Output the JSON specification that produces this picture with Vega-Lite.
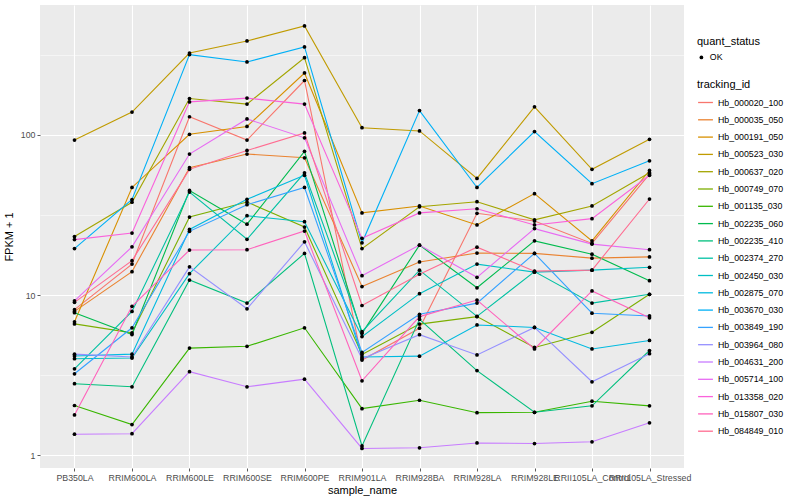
{
  "$schema": "https://vega.github.io/schema/vega-lite/v6.json",
  "width": 644,
  "height": 463,
  "autosize": {"type": "none"},
  "padding": {"left": 40, "top": 5, "right": 116, "bottom": 32},
  "background": "white",
  "data": {"values": [
    {"tracking_id":"Hb_000020_100","sample_name":"PB350LA","fpkm_plus_1":8.1,"quant_status":"OK"},
    {"tracking_id":"Hb_000020_100","sample_name":"RRIM600LA","fpkm_plus_1":15.6,"quant_status":"OK"},
    {"tracking_id":"Hb_000020_100","sample_name":"RRIM600LE","fpkm_plus_1":130,"quant_status":"OK"},
    {"tracking_id":"Hb_000020_100","sample_name":"RRIM600SE","fpkm_plus_1":93,"quant_status":"OK"},
    {"tracking_id":"Hb_000020_100","sample_name":"RRIM600PE","fpkm_plus_1":219,"quant_status":"OK"},
    {"tracking_id":"Hb_000020_100","sample_name":"RRIM901LA","fpkm_plus_1":3.92,"quant_status":"OK"},
    {"tracking_id":"Hb_000020_100","sample_name":"RRIM928BA","fpkm_plus_1":6.2,"quant_status":"OK"},
    {"tracking_id":"Hb_000020_100","sample_name":"RRIM928LA","fpkm_plus_1":32.4,"quant_status":"OK"},
    {"tracking_id":"Hb_000020_100","sample_name":"RRIM928LE","fpkm_plus_1":29,"quant_status":"OK"},
    {"tracking_id":"Hb_000020_100","sample_name":"RRII105LA_Control","fpkm_plus_1":21,"quant_status":"OK"},
    {"tracking_id":"Hb_000020_100","sample_name":"RRII105LA_Stressed","fpkm_plus_1":57,"quant_status":"OK"},

    {"tracking_id":"Hb_000035_050","sample_name":"PB350LA","fpkm_plus_1":7.9,"quant_status":"OK"},
    {"tracking_id":"Hb_000035_050","sample_name":"RRIM600LA","fpkm_plus_1":14.0,"quant_status":"OK"},
    {"tracking_id":"Hb_000035_050","sample_name":"RRIM600LE","fpkm_plus_1":62.5,"quant_status":"OK"},
    {"tracking_id":"Hb_000035_050","sample_name":"RRIM600SE","fpkm_plus_1":76,"quant_status":"OK"},
    {"tracking_id":"Hb_000035_050","sample_name":"RRIM600PE","fpkm_plus_1":72,"quant_status":"OK"},
    {"tracking_id":"Hb_000035_050","sample_name":"RRIM901LA","fpkm_plus_1":11.3,"quant_status":"OK"},
    {"tracking_id":"Hb_000035_050","sample_name":"RRIM928BA","fpkm_plus_1":16.1,"quant_status":"OK"},
    {"tracking_id":"Hb_000035_050","sample_name":"RRIM928LA","fpkm_plus_1":18.3,"quant_status":"OK"},
    {"tracking_id":"Hb_000035_050","sample_name":"RRIM928LE","fpkm_plus_1":18.2,"quant_status":"OK"},
    {"tracking_id":"Hb_000035_050","sample_name":"RRII105LA_Control","fpkm_plus_1":17,"quant_status":"OK"},
    {"tracking_id":"Hb_000035_050","sample_name":"RRII105LA_Stressed","fpkm_plus_1":17.3,"quant_status":"OK"},

    {"tracking_id":"Hb_000191_050","sample_name":"PB350LA","fpkm_plus_1":6.8,"quant_status":"OK"},
    {"tracking_id":"Hb_000191_050","sample_name":"RRIM600LA","fpkm_plus_1":47,"quant_status":"OK"},
    {"tracking_id":"Hb_000191_050","sample_name":"RRIM600LE","fpkm_plus_1":101,"quant_status":"OK"},
    {"tracking_id":"Hb_000191_050","sample_name":"RRIM600SE","fpkm_plus_1":113,"quant_status":"OK"},
    {"tracking_id":"Hb_000191_050","sample_name":"RRIM600PE","fpkm_plus_1":244,"quant_status":"OK"},
    {"tracking_id":"Hb_000191_050","sample_name":"RRIM901LA","fpkm_plus_1":32.6,"quant_status":"OK"},
    {"tracking_id":"Hb_000191_050","sample_name":"RRIM928BA","fpkm_plus_1":36,"quant_status":"OK"},
    {"tracking_id":"Hb_000191_050","sample_name":"RRIM928LA","fpkm_plus_1":27.4,"quant_status":"OK"},
    {"tracking_id":"Hb_000191_050","sample_name":"RRIM928LE","fpkm_plus_1":43,"quant_status":"OK"},
    {"tracking_id":"Hb_000191_050","sample_name":"RRII105LA_Control","fpkm_plus_1":21.8,"quant_status":"OK"},
    {"tracking_id":"Hb_000191_050","sample_name":"RRII105LA_Stressed","fpkm_plus_1":60,"quant_status":"OK"},

    {"tracking_id":"Hb_000523_030","sample_name":"PB350LA","fpkm_plus_1":93,"quant_status":"OK"},
    {"tracking_id":"Hb_000523_030","sample_name":"RRIM600LA","fpkm_plus_1":139,"quant_status":"OK"},
    {"tracking_id":"Hb_000523_030","sample_name":"RRIM600LE","fpkm_plus_1":325,"quant_status":"OK"},
    {"tracking_id":"Hb_000523_030","sample_name":"RRIM600SE","fpkm_plus_1":387,"quant_status":"OK"},
    {"tracking_id":"Hb_000523_030","sample_name":"RRIM600PE","fpkm_plus_1":480,"quant_status":"OK"},
    {"tracking_id":"Hb_000523_030","sample_name":"RRIM901LA","fpkm_plus_1":111,"quant_status":"OK"},
    {"tracking_id":"Hb_000523_030","sample_name":"RRIM928BA","fpkm_plus_1":106,"quant_status":"OK"},
    {"tracking_id":"Hb_000523_030","sample_name":"RRIM928LA","fpkm_plus_1":53.5,"quant_status":"OK"},
    {"tracking_id":"Hb_000523_030","sample_name":"RRIM928LE","fpkm_plus_1":150,"quant_status":"OK"},
    {"tracking_id":"Hb_000523_030","sample_name":"RRII105LA_Control","fpkm_plus_1":61,"quant_status":"OK"},
    {"tracking_id":"Hb_000523_030","sample_name":"RRII105LA_Stressed","fpkm_plus_1":94,"quant_status":"OK"},

    {"tracking_id":"Hb_000637_020","sample_name":"PB350LA","fpkm_plus_1":23.2,"quant_status":"OK"},
    {"tracking_id":"Hb_000637_020","sample_name":"RRIM600LA","fpkm_plus_1":38,"quant_status":"OK"},
    {"tracking_id":"Hb_000637_020","sample_name":"RRIM600LE","fpkm_plus_1":169,"quant_status":"OK"},
    {"tracking_id":"Hb_000637_020","sample_name":"RRIM600SE","fpkm_plus_1":156,"quant_status":"OK"},
    {"tracking_id":"Hb_000637_020","sample_name":"RRIM600PE","fpkm_plus_1":304,"quant_status":"OK"},
    {"tracking_id":"Hb_000637_020","sample_name":"RRIM901LA","fpkm_plus_1":19.5,"quant_status":"OK"},
    {"tracking_id":"Hb_000637_020","sample_name":"RRIM928BA","fpkm_plus_1":35.6,"quant_status":"OK"},
    {"tracking_id":"Hb_000637_020","sample_name":"RRIM928LA","fpkm_plus_1":38.3,"quant_status":"OK"},
    {"tracking_id":"Hb_000637_020","sample_name":"RRIM928LE","fpkm_plus_1":29.5,"quant_status":"OK"},
    {"tracking_id":"Hb_000637_020","sample_name":"RRII105LA_Control","fpkm_plus_1":36,"quant_status":"OK"},
    {"tracking_id":"Hb_000637_020","sample_name":"RRII105LA_Stressed","fpkm_plus_1":58,"quant_status":"OK"},

    {"tracking_id":"Hb_000749_070","sample_name":"PB350LA","fpkm_plus_1":6.6,"quant_status":"OK"},
    {"tracking_id":"Hb_000749_070","sample_name":"RRIM600LA","fpkm_plus_1":5.8,"quant_status":"OK"},
    {"tracking_id":"Hb_000749_070","sample_name":"RRIM600LE","fpkm_plus_1":30.7,"quant_status":"OK"},
    {"tracking_id":"Hb_000749_070","sample_name":"RRIM600SE","fpkm_plus_1":38.1,"quant_status":"OK"},
    {"tracking_id":"Hb_000749_070","sample_name":"RRIM600PE","fpkm_plus_1":26.6,"quant_status":"OK"},
    {"tracking_id":"Hb_000749_070","sample_name":"RRIM901LA","fpkm_plus_1":4.25,"quant_status":"OK"},
    {"tracking_id":"Hb_000749_070","sample_name":"RRIM928BA","fpkm_plus_1":6.58,"quant_status":"OK"},
    {"tracking_id":"Hb_000749_070","sample_name":"RRIM928LA","fpkm_plus_1":7.33,"quant_status":"OK"},
    {"tracking_id":"Hb_000749_070","sample_name":"RRIM928LE","fpkm_plus_1":4.7,"quant_status":"OK"},
    {"tracking_id":"Hb_000749_070","sample_name":"RRII105LA_Control","fpkm_plus_1":5.85,"quant_status":"OK"},
    {"tracking_id":"Hb_000749_070","sample_name":"RRII105LA_Stressed","fpkm_plus_1":10.1,"quant_status":"OK"},

    {"tracking_id":"Hb_001135_030","sample_name":"PB350LA","fpkm_plus_1":2.04,"quant_status":"OK"},
    {"tracking_id":"Hb_001135_030","sample_name":"RRIM600LA","fpkm_plus_1":1.55,"quant_status":"OK"},
    {"tracking_id":"Hb_001135_030","sample_name":"RRIM600LE","fpkm_plus_1":4.66,"quant_status":"OK"},
    {"tracking_id":"Hb_001135_030","sample_name":"RRIM600SE","fpkm_plus_1":4.78,"quant_status":"OK"},
    {"tracking_id":"Hb_001135_030","sample_name":"RRIM600PE","fpkm_plus_1":6.24,"quant_status":"OK"},
    {"tracking_id":"Hb_001135_030","sample_name":"RRIM901LA","fpkm_plus_1":1.95,"quant_status":"OK"},
    {"tracking_id":"Hb_001135_030","sample_name":"RRIM928BA","fpkm_plus_1":2.2,"quant_status":"OK"},
    {"tracking_id":"Hb_001135_030","sample_name":"RRIM928LA","fpkm_plus_1":1.84,"quant_status":"OK"},
    {"tracking_id":"Hb_001135_030","sample_name":"RRIM928LE","fpkm_plus_1":1.85,"quant_status":"OK"},
    {"tracking_id":"Hb_001135_030","sample_name":"RRII105LA_Control","fpkm_plus_1":2.17,"quant_status":"OK"},
    {"tracking_id":"Hb_001135_030","sample_name":"RRII105LA_Stressed","fpkm_plus_1":2.03,"quant_status":"OK"},

    {"tracking_id":"Hb_002235_060","sample_name":"PB350LA","fpkm_plus_1":7.75,"quant_status":"OK"},
    {"tracking_id":"Hb_002235_060","sample_name":"RRIM600LA","fpkm_plus_1":5.66,"quant_status":"OK"},
    {"tracking_id":"Hb_002235_060","sample_name":"RRIM600LE","fpkm_plus_1":45,"quant_status":"OK"},
    {"tracking_id":"Hb_002235_060","sample_name":"RRIM600SE","fpkm_plus_1":27.7,"quant_status":"OK"},
    {"tracking_id":"Hb_002235_060","sample_name":"RRIM600PE","fpkm_plus_1":79,"quant_status":"OK"},
    {"tracking_id":"Hb_002235_060","sample_name":"RRIM901LA","fpkm_plus_1":5.76,"quant_status":"OK"},
    {"tracking_id":"Hb_002235_060","sample_name":"RRIM928BA","fpkm_plus_1":20.5,"quant_status":"OK"},
    {"tracking_id":"Hb_002235_060","sample_name":"RRIM928LA","fpkm_plus_1":11.1,"quant_status":"OK"},
    {"tracking_id":"Hb_002235_060","sample_name":"RRIM928LE","fpkm_plus_1":21.8,"quant_status":"OK"},
    {"tracking_id":"Hb_002235_060","sample_name":"RRII105LA_Control","fpkm_plus_1":18,"quant_status":"OK"},
    {"tracking_id":"Hb_002235_060","sample_name":"RRII105LA_Stressed","fpkm_plus_1":12.3,"quant_status":"OK"},

    {"tracking_id":"Hb_002235_410","sample_name":"PB350LA","fpkm_plus_1":2.79,"quant_status":"OK"},
    {"tracking_id":"Hb_002235_410","sample_name":"RRIM600LA","fpkm_plus_1":2.67,"quant_status":"OK"},
    {"tracking_id":"Hb_002235_410","sample_name":"RRIM600LE","fpkm_plus_1":12.4,"quant_status":"OK"},
    {"tracking_id":"Hb_002235_410","sample_name":"RRIM600SE","fpkm_plus_1":8.9,"quant_status":"OK"},
    {"tracking_id":"Hb_002235_410","sample_name":"RRIM600PE","fpkm_plus_1":18.2,"quant_status":"OK"},
    {"tracking_id":"Hb_002235_410","sample_name":"RRIM901LA","fpkm_plus_1":1.14,"quant_status":"OK"},
    {"tracking_id":"Hb_002235_410","sample_name":"RRIM928BA","fpkm_plus_1":7.05,"quant_status":"OK"},
    {"tracking_id":"Hb_002235_410","sample_name":"RRIM928LA","fpkm_plus_1":3.37,"quant_status":"OK"},
    {"tracking_id":"Hb_002235_410","sample_name":"RRIM928LE","fpkm_plus_1":1.85,"quant_status":"OK"},
    {"tracking_id":"Hb_002235_410","sample_name":"RRII105LA_Control","fpkm_plus_1":2.03,"quant_status":"OK"},
    {"tracking_id":"Hb_002235_410","sample_name":"RRII105LA_Stressed","fpkm_plus_1":4.5,"quant_status":"OK"},

    {"tracking_id":"Hb_002374_270","sample_name":"PB350LA","fpkm_plus_1":3.46,"quant_status":"OK"},
    {"tracking_id":"Hb_002374_270","sample_name":"RRIM600LA","fpkm_plus_1":7.9,"quant_status":"OK"},
    {"tracking_id":"Hb_002374_270","sample_name":"RRIM600LE","fpkm_plus_1":44,"quant_status":"OK"},
    {"tracking_id":"Hb_002374_270","sample_name":"RRIM600SE","fpkm_plus_1":22.3,"quant_status":"OK"},
    {"tracking_id":"Hb_002374_270","sample_name":"RRIM600PE","fpkm_plus_1":58,"quant_status":"OK"},
    {"tracking_id":"Hb_002374_270","sample_name":"RRIM901LA","fpkm_plus_1":5.9,"quant_status":"OK"},
    {"tracking_id":"Hb_002374_270","sample_name":"RRIM928BA","fpkm_plus_1":14.3,"quant_status":"OK"},
    {"tracking_id":"Hb_002374_270","sample_name":"RRIM928LA","fpkm_plus_1":7.35,"quant_status":"OK"},
    {"tracking_id":"Hb_002374_270","sample_name":"RRIM928LE","fpkm_plus_1":14.0,"quant_status":"OK"},
    {"tracking_id":"Hb_002374_270","sample_name":"RRII105LA_Control","fpkm_plus_1":8.9,"quant_status":"OK"},
    {"tracking_id":"Hb_002374_270","sample_name":"RRII105LA_Stressed","fpkm_plus_1":10.1,"quant_status":"OK"},

    {"tracking_id":"Hb_002450_030","sample_name":"PB350LA","fpkm_plus_1":4.0,"quant_status":"OK"},
    {"tracking_id":"Hb_002450_030","sample_name":"RRIM600LA","fpkm_plus_1":4.04,"quant_status":"OK"},
    {"tracking_id":"Hb_002450_030","sample_name":"RRIM600LE","fpkm_plus_1":13.6,"quant_status":"OK"},
    {"tracking_id":"Hb_002450_030","sample_name":"RRIM600SE","fpkm_plus_1":31.3,"quant_status":"OK"},
    {"tracking_id":"Hb_002450_030","sample_name":"RRIM600PE","fpkm_plus_1":28.7,"quant_status":"OK"},
    {"tracking_id":"Hb_002450_030","sample_name":"RRIM901LA","fpkm_plus_1":5.5,"quant_status":"OK"},
    {"tracking_id":"Hb_002450_030","sample_name":"RRIM928BA","fpkm_plus_1":10.2,"quant_status":"OK"},
    {"tracking_id":"Hb_002450_030","sample_name":"RRIM928LA","fpkm_plus_1":15.6,"quant_status":"OK"},
    {"tracking_id":"Hb_002450_030","sample_name":"RRIM928LE","fpkm_plus_1":13.9,"quant_status":"OK"},
    {"tracking_id":"Hb_002450_030","sample_name":"RRII105LA_Control","fpkm_plus_1":14.3,"quant_status":"OK"},
    {"tracking_id":"Hb_002450_030","sample_name":"RRII105LA_Stressed","fpkm_plus_1":14.9,"quant_status":"OK"},

    {"tracking_id":"Hb_002875_070","sample_name":"PB350LA","fpkm_plus_1":4.16,"quant_status":"OK"},
    {"tracking_id":"Hb_002875_070","sample_name":"RRIM600LA","fpkm_plus_1":4.27,"quant_status":"OK"},
    {"tracking_id":"Hb_002875_070","sample_name":"RRIM600LE","fpkm_plus_1":25.7,"quant_status":"OK"},
    {"tracking_id":"Hb_002875_070","sample_name":"RRIM600SE","fpkm_plus_1":39.6,"quant_status":"OK"},
    {"tracking_id":"Hb_002875_070","sample_name":"RRIM600PE","fpkm_plus_1":56,"quant_status":"OK"},
    {"tracking_id":"Hb_002875_070","sample_name":"RRIM901LA","fpkm_plus_1":4.1,"quant_status":"OK"},
    {"tracking_id":"Hb_002875_070","sample_name":"RRIM928BA","fpkm_plus_1":4.15,"quant_status":"OK"},
    {"tracking_id":"Hb_002875_070","sample_name":"RRIM928LA","fpkm_plus_1":6.5,"quant_status":"OK"},
    {"tracking_id":"Hb_002875_070","sample_name":"RRIM928LE","fpkm_plus_1":6.27,"quant_status":"OK"},
    {"tracking_id":"Hb_002875_070","sample_name":"RRII105LA_Control","fpkm_plus_1":4.6,"quant_status":"OK"},
    {"tracking_id":"Hb_002875_070","sample_name":"RRII105LA_Stressed","fpkm_plus_1":5.2,"quant_status":"OK"},

    {"tracking_id":"Hb_003670_030","sample_name":"PB350LA","fpkm_plus_1":19.5,"quant_status":"OK"},
    {"tracking_id":"Hb_003670_030","sample_name":"RRIM600LA","fpkm_plus_1":39.5,"quant_status":"OK"},
    {"tracking_id":"Hb_003670_030","sample_name":"RRIM600LE","fpkm_plus_1":318,"quant_status":"OK"},
    {"tracking_id":"Hb_003670_030","sample_name":"RRIM600SE","fpkm_plus_1":286,"quant_status":"OK"},
    {"tracking_id":"Hb_003670_030","sample_name":"RRIM600PE","fpkm_plus_1":355,"quant_status":"OK"},
    {"tracking_id":"Hb_003670_030","sample_name":"RRIM901LA","fpkm_plus_1":21.2,"quant_status":"OK"},
    {"tracking_id":"Hb_003670_030","sample_name":"RRIM928BA","fpkm_plus_1":142,"quant_status":"OK"},
    {"tracking_id":"Hb_003670_030","sample_name":"RRIM928LA","fpkm_plus_1":47,"quant_status":"OK"},
    {"tracking_id":"Hb_003670_030","sample_name":"RRIM928LE","fpkm_plus_1":105,"quant_status":"OK"},
    {"tracking_id":"Hb_003670_030","sample_name":"RRII105LA_Control","fpkm_plus_1":49.6,"quant_status":"OK"},
    {"tracking_id":"Hb_003670_030","sample_name":"RRII105LA_Stressed","fpkm_plus_1":69,"quant_status":"OK"},

    {"tracking_id":"Hb_003849_190","sample_name":"PB350LA","fpkm_plus_1":3.22,"quant_status":"OK"},
    {"tracking_id":"Hb_003849_190","sample_name":"RRIM600LA","fpkm_plus_1":6.24,"quant_status":"OK"},
    {"tracking_id":"Hb_003849_190","sample_name":"RRIM600LE","fpkm_plus_1":25,"quant_status":"OK"},
    {"tracking_id":"Hb_003849_190","sample_name":"RRIM600SE","fpkm_plus_1":36.7,"quant_status":"OK"},
    {"tracking_id":"Hb_003849_190","sample_name":"RRIM600PE","fpkm_plus_1":47,"quant_status":"OK"},
    {"tracking_id":"Hb_003849_190","sample_name":"RRIM901LA","fpkm_plus_1":4.38,"quant_status":"OK"},
    {"tracking_id":"Hb_003849_190","sample_name":"RRIM928BA","fpkm_plus_1":7.58,"quant_status":"OK"},
    {"tracking_id":"Hb_003849_190","sample_name":"RRIM928LA","fpkm_plus_1":8.9,"quant_status":"OK"},
    {"tracking_id":"Hb_003849_190","sample_name":"RRIM928LE","fpkm_plus_1":18.2,"quant_status":"OK"},
    {"tracking_id":"Hb_003849_190","sample_name":"RRII105LA_Control","fpkm_plus_1":7.7,"quant_status":"OK"},
    {"tracking_id":"Hb_003849_190","sample_name":"RRII105LA_Stressed","fpkm_plus_1":7.4,"quant_status":"OK"},

    {"tracking_id":"Hb_003964_080","sample_name":"PB350LA","fpkm_plus_1":4.27,"quant_status":"OK"},
    {"tracking_id":"Hb_003964_080","sample_name":"RRIM600LA","fpkm_plus_1":4.1,"quant_status":"OK"},
    {"tracking_id":"Hb_003964_080","sample_name":"RRIM600LE","fpkm_plus_1":15.0,"quant_status":"OK"},
    {"tracking_id":"Hb_003964_080","sample_name":"RRIM600SE","fpkm_plus_1":8.2,"quant_status":"OK"},
    {"tracking_id":"Hb_003964_080","sample_name":"RRIM600PE","fpkm_plus_1":21.5,"quant_status":"OK"},
    {"tracking_id":"Hb_003964_080","sample_name":"RRIM901LA","fpkm_plus_1":4.0,"quant_status":"OK"},
    {"tracking_id":"Hb_003964_080","sample_name":"RRIM928BA","fpkm_plus_1":5.65,"quant_status":"OK"},
    {"tracking_id":"Hb_003964_080","sample_name":"RRIM928LA","fpkm_plus_1":4.22,"quant_status":"OK"},
    {"tracking_id":"Hb_003964_080","sample_name":"RRIM928LE","fpkm_plus_1":6.27,"quant_status":"OK"},
    {"tracking_id":"Hb_003964_080","sample_name":"RRII105LA_Control","fpkm_plus_1":2.87,"quant_status":"OK"},
    {"tracking_id":"Hb_003964_080","sample_name":"RRII105LA_Stressed","fpkm_plus_1":4.3,"quant_status":"OK"},

    {"tracking_id":"Hb_004631_200","sample_name":"PB350LA","fpkm_plus_1":1.35,"quant_status":"OK"},
    {"tracking_id":"Hb_004631_200","sample_name":"RRIM600LA","fpkm_plus_1":1.36,"quant_status":"OK"},
    {"tracking_id":"Hb_004631_200","sample_name":"RRIM600LE","fpkm_plus_1":3.32,"quant_status":"OK"},
    {"tracking_id":"Hb_004631_200","sample_name":"RRIM600SE","fpkm_plus_1":2.67,"quant_status":"OK"},
    {"tracking_id":"Hb_004631_200","sample_name":"RRIM600PE","fpkm_plus_1":2.98,"quant_status":"OK"},
    {"tracking_id":"Hb_004631_200","sample_name":"RRIM901LA","fpkm_plus_1":1.1,"quant_status":"OK"},
    {"tracking_id":"Hb_004631_200","sample_name":"RRIM928BA","fpkm_plus_1":1.11,"quant_status":"OK"},
    {"tracking_id":"Hb_004631_200","sample_name":"RRIM928LA","fpkm_plus_1":1.19,"quant_status":"OK"},
    {"tracking_id":"Hb_004631_200","sample_name":"RRIM928LE","fpkm_plus_1":1.18,"quant_status":"OK"},
    {"tracking_id":"Hb_004631_200","sample_name":"RRII105LA_Control","fpkm_plus_1":1.21,"quant_status":"OK"},
    {"tracking_id":"Hb_004631_200","sample_name":"RRII105LA_Stressed","fpkm_plus_1":1.59,"quant_status":"OK"},

    {"tracking_id":"Hb_005714_100","sample_name":"PB350LA","fpkm_plus_1":9.2,"quant_status":"OK"},
    {"tracking_id":"Hb_005714_100","sample_name":"RRIM600LA","fpkm_plus_1":20,"quant_status":"OK"},
    {"tracking_id":"Hb_005714_100","sample_name":"RRIM600LE","fpkm_plus_1":76,"quant_status":"OK"},
    {"tracking_id":"Hb_005714_100","sample_name":"RRIM600SE","fpkm_plus_1":126,"quant_status":"OK"},
    {"tracking_id":"Hb_005714_100","sample_name":"RRIM600PE","fpkm_plus_1":96,"quant_status":"OK"},
    {"tracking_id":"Hb_005714_100","sample_name":"RRIM901LA","fpkm_plus_1":13.2,"quant_status":"OK"},
    {"tracking_id":"Hb_005714_100","sample_name":"RRIM928BA","fpkm_plus_1":20.5,"quant_status":"OK"},
    {"tracking_id":"Hb_005714_100","sample_name":"RRIM928LA","fpkm_plus_1":12.9,"quant_status":"OK"},
    {"tracking_id":"Hb_005714_100","sample_name":"RRIM928LE","fpkm_plus_1":26,"quant_status":"OK"},
    {"tracking_id":"Hb_005714_100","sample_name":"RRII105LA_Control","fpkm_plus_1":20.8,"quant_status":"OK"},
    {"tracking_id":"Hb_005714_100","sample_name":"RRII105LA_Stressed","fpkm_plus_1":19.2,"quant_status":"OK"},

    {"tracking_id":"Hb_013358_020","sample_name":"PB350LA","fpkm_plus_1":22.2,"quant_status":"OK"},
    {"tracking_id":"Hb_013358_020","sample_name":"RRIM600LA","fpkm_plus_1":24.4,"quant_status":"OK"},
    {"tracking_id":"Hb_013358_020","sample_name":"RRIM600LE","fpkm_plus_1":161,"quant_status":"OK"},
    {"tracking_id":"Hb_013358_020","sample_name":"RRIM600SE","fpkm_plus_1":170,"quant_status":"OK"},
    {"tracking_id":"Hb_013358_020","sample_name":"RRIM600PE","fpkm_plus_1":156,"quant_status":"OK"},
    {"tracking_id":"Hb_013358_020","sample_name":"RRIM901LA","fpkm_plus_1":22.6,"quant_status":"OK"},
    {"tracking_id":"Hb_013358_020","sample_name":"RRIM928BA","fpkm_plus_1":32.6,"quant_status":"OK"},
    {"tracking_id":"Hb_013358_020","sample_name":"RRIM928LA","fpkm_plus_1":34.6,"quant_status":"OK"},
    {"tracking_id":"Hb_013358_020","sample_name":"RRIM928LE","fpkm_plus_1":27.4,"quant_status":"OK"},
    {"tracking_id":"Hb_013358_020","sample_name":"RRII105LA_Control","fpkm_plus_1":30,"quant_status":"OK"},
    {"tracking_id":"Hb_013358_020","sample_name":"RRII105LA_Stressed","fpkm_plus_1":56,"quant_status":"OK"},

    {"tracking_id":"Hb_015807_030","sample_name":"PB350LA","fpkm_plus_1":1.78,"quant_status":"OK"},
    {"tracking_id":"Hb_015807_030","sample_name":"RRIM600LA","fpkm_plus_1":8.5,"quant_status":"OK"},
    {"tracking_id":"Hb_015807_030","sample_name":"RRIM600LE","fpkm_plus_1":19.1,"quant_status":"OK"},
    {"tracking_id":"Hb_015807_030","sample_name":"RRIM600SE","fpkm_plus_1":19.2,"quant_status":"OK"},
    {"tracking_id":"Hb_015807_030","sample_name":"RRIM600PE","fpkm_plus_1":25.1,"quant_status":"OK"},
    {"tracking_id":"Hb_015807_030","sample_name":"RRIM901LA","fpkm_plus_1":2.91,"quant_status":"OK"},
    {"tracking_id":"Hb_015807_030","sample_name":"RRIM928BA","fpkm_plus_1":7.33,"quant_status":"OK"},
    {"tracking_id":"Hb_015807_030","sample_name":"RRIM928LA","fpkm_plus_1":9.3,"quant_status":"OK"},
    {"tracking_id":"Hb_015807_030","sample_name":"RRIM928LE","fpkm_plus_1":4.6,"quant_status":"OK"},
    {"tracking_id":"Hb_015807_030","sample_name":"RRII105LA_Control","fpkm_plus_1":10.6,"quant_status":"OK"},
    {"tracking_id":"Hb_015807_030","sample_name":"RRII105LA_Stressed","fpkm_plus_1":7.2,"quant_status":"OK"},

    {"tracking_id":"Hb_084849_010","sample_name":"PB350LA","fpkm_plus_1":9.0,"quant_status":"OK"},
    {"tracking_id":"Hb_084849_010","sample_name":"RRIM600LA","fpkm_plus_1":16.4,"quant_status":"OK"},
    {"tracking_id":"Hb_084849_010","sample_name":"RRIM600LE","fpkm_plus_1":61,"quant_status":"OK"},
    {"tracking_id":"Hb_084849_010","sample_name":"RRIM600SE","fpkm_plus_1":80,"quant_status":"OK"},
    {"tracking_id":"Hb_084849_010","sample_name":"RRIM600PE","fpkm_plus_1":103,"quant_status":"OK"},
    {"tracking_id":"Hb_084849_010","sample_name":"RRIM901LA","fpkm_plus_1":8.6,"quant_status":"OK"},
    {"tracking_id":"Hb_084849_010","sample_name":"RRIM928BA","fpkm_plus_1":13.5,"quant_status":"OK"},
    {"tracking_id":"Hb_084849_010","sample_name":"RRIM928LA","fpkm_plus_1":19.9,"quant_status":"OK"},
    {"tracking_id":"Hb_084849_010","sample_name":"RRIM928LE","fpkm_plus_1":14.1,"quant_status":"OK"},
    {"tracking_id":"Hb_084849_010","sample_name":"RRII105LA_Control","fpkm_plus_1":14.3,"quant_status":"OK"},
    {"tracking_id":"Hb_084849_010","sample_name":"RRII105LA_Stressed","fpkm_plus_1":39.8,"quant_status":"OK"}
  ]},
  "encoding": {
    "x": {
      "field": "sample_name", "type": "nominal",
      "sort": ["PB350LA","RRIM600LA","RRIM600LE","RRIM600SE","RRIM600PE","RRIM901LA","RRIM928BA","RRIM928LA","RRIM928LE","RRII105LA_Control","RRII105LA_Stressed"],
      "scale": {"type": "point", "padding": 0.6},
      "axis": {"title": "sample_name", "labelAngle": 0, "labelOverlap": false, "labelBound": false, "labelFlush": false, "titlePadding": 3, "labelPadding": 2}
    },
    "y": {
      "field": "fpkm_plus_1", "type": "quantitative",
      "scale": {"type": "log", "domain": [0.83, 649], "nice": false, "zero": false},
      "axis": {
        "title": "FPKM + 1",
        "values": [1, 3.1623, 10, 31.623, 100, 316.23],
        "labelExpr": "indexof([1,10,100], datum.value) >= 0 ? format(datum.value, 'd') : ''",
        "gridWidth": {"condition": {"test": "indexof([1,10,100], datum.value) >= 0", "value": 1.1}, "value": 0.5},
        "tickOpacity": {"condition": {"test": "indexof([1,10,100], datum.value) >= 0", "value": 1}, "value": 0},
        "titlePadding": 6,
        "labelPadding": 2
      }
    }
  },
  "layer": [
    {
      "mark": {"type": "line", "strokeWidth": 1.1},
      "encoding": {
        "color": {
          "field": "tracking_id", "type": "nominal",
          "scale": {"range": ["#F8766D","#EA8331","#D89000","#C09B00","#A3A500","#7CAE00","#39B600","#00BB4E","#00BF7D","#00C1A3","#00BFC4","#00BAE0","#00B0F6","#35A2FF","#9590FF","#C77CFF","#E76BF3","#FA62DB","#FF62BC","#FF6C91"]},
          "legend": {
            "title": "tracking_id",
            "orient": "none", "legendX": 657, "legendY": 74,
            "symbolType": "stroke", "symbolSize": 220, "symbolStrokeWidth": 1.3,
            "rowPadding": 3.3, "labelFontSize": 8.8, "labelColor": "black",
            "titleFontSize": 11, "titleFontWeight": "normal", "titleColor": "black", "titlePadding": 4
          }
        }
      }
    },
    {
      "mark": {"type": "point", "filled": true, "color": "black", "size": 14, "opacity": 1},
      "encoding": {
        "shape": {
          "field": "quant_status", "type": "nominal",
          "scale": {"range": ["circle"]},
          "legend": {
            "title": "quant_status",
            "orient": "none", "legendX": 657, "legendY": 31,
            "symbolFillColor": "black", "symbolStrokeColor": "black", "symbolSize": 14,
            "labelFontSize": 8.8, "labelColor": "black",
            "titleFontSize": 11, "titleFontWeight": "normal", "titleColor": "black", "titlePadding": 6
          }
        }
      }
    }
  ],
  "config": {
    "font": "Liberation Sans",
    "view": {"fill": "#EBEBEB", "stroke": null},
    "axis": {
      "domain": false,
      "grid": true,
      "gridColor": "white",
      "gridWidth": 1.1,
      "tickColor": "#333333",
      "tickSize": 3,
      "tickWidth": 0.8,
      "labelColor": "#4D4D4D",
      "labelFontSize": 8.8,
      "titleFontSize": 11,
      "titleFontWeight": "normal",
      "titleColor": "black"
    }
  }
}
